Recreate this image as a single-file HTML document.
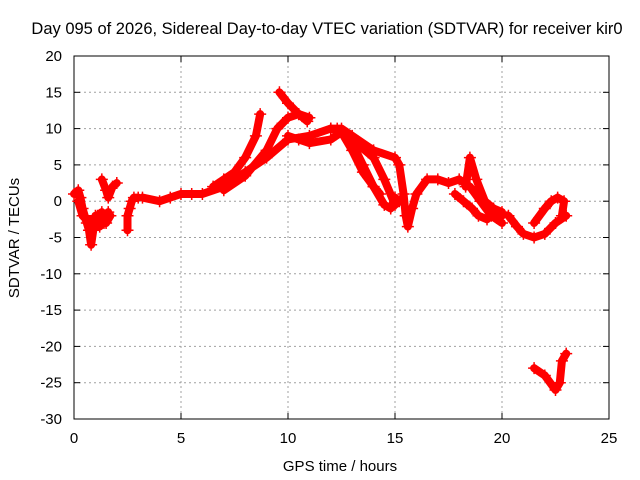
<!DOCTYPE html>
<html><head><meta charset="utf-8"><style>
body{margin:0;background:#fff}
svg{display:block;font-family:"Liberation Sans",sans-serif;font-size:15px}
</style></head><body>
<svg id="chart" width="640" height="480" xmlns="http://www.w3.org/2000/svg">
<rect width="640" height="480" fill="#fff"/>
<g id="grid"></g>
<g id="axes"></g>
<g id="marks"></g>
<text x="327" y="34" text-anchor="middle" style="font-size:16.5px">Day 095 of 2026, Sidereal Day-to-day VTEC variation (SDTVAR) for receiver kir0</text>
<text x="340" y="471" text-anchor="middle">GPS time / hours</text>
<text transform="translate(19,238) rotate(-90)" text-anchor="middle">SDTVAR / TECUs</text>
</svg>
<script>
const xTicks=[0,5,10,15,20,25];
const yTicks=[20,15,10,5,0,-5,-10,-15,-20,-25,-30];
const trackA=[[0,1],[0.2,1.5],[0.3,0.5],[0.4,-1],[0.5,-2],[0.6,-3],[0.7,-4],[0.8,-6],[0.9,-4],[1,-2],[1.1,-3],[1.2,-3.5],[1.3,-2.5],[1.4,-3],[1.5,-2],[1.6,-1.5]];
const trackA2=[[0.2,0],[0.4,-2],[0.6,-2.5],[0.9,-2.5],[1.1,-2],[1.3,-1.5],[1.5,-3],[1.7,-2]];
const trackB=[[1.3,3],[1.5,1.5],[1.6,0.5],[1.8,2],[2,2.5]];
const trackC=[[2.5,-4],[2.5,-2],[2.6,-1],[2.7,0],[2.8,0.5],[3,0.5]];
const trackMain=[[3.2,0.5],[4,0],[4.5,0.5],[5,1],[5.5,1],[6,1],[7,2],[8,4],[9,6],[10,8.5],[11,9],[12,10],[12.5,10],[13,9],[14,7],[15,6],[15.2,5],[15.4,1],[15.5,-2],[15.6,-3.5],[15.8,-1],[16,1],[16.5,3],[17,3],[17.5,2.5],[18,3],[18.5,2],[19,0],[19.5,-2],[20,-3]];
const trackUp1=[[6.5,2],[7,3],[7.5,4],[8,6],[8.5,9],[8.7,12]];
const trackUp2=[[7,1.5],[8,3.5],[9,7],[9.5,10],[10,11.5],[10.5,12],[11,11.5]];
const trackPeak=[[9.6,15],[10,13.5],[10.5,12],[10.9,11]];
const trackD=[[10,9],[10.5,8.5],[11,8],[12,8.5],[12.5,9.5],[13,8],[13.5,5],[14,2],[14.5,-0.5],[14.8,-1],[15,0.5]];
const trackE=[[12,10],[12.5,9.5],[13,7],[13.5,4],[14,2],[14.3,1]];
const trackF=[[12.3,10],[13,8.5],[14,6],[14.5,3],[15,-0.5],[15.2,0]];
const trackG=[[18.3,2],[18.5,6],[18.8,3],[19.2,0],[19.6,-1],[20,-2]];
const trackH=[[17.8,1],[18.2,0],[18.6,-1],[18.9,-2],[19.3,-2.5],[19.6,-1],[20,-1.5]];
const trackLoopLow=[[20.3,-2],[20.7,-3.5],[21,-4.5],[21.5,-5],[22,-4.5],[22.5,-3],[23,-2]];
const trackLoopUp=[[21.5,-3],[22,-1],[22.3,0],[22.6,0.5],[22.9,0],[22.8,-2]];
const trackV=[[21.5,-23],[22,-24],[22.5,-26],[22.7,-25],[22.8,-22],[23,-21]];
const tracks=[trackA,trackA2,trackB,trackC,trackMain,trackUp1,trackUp2,trackPeak,trackD,trackE,trackF,trackG,trackH,trackLoopLow,trackLoopUp,trackV];
const X0=74,X1=609,Y0=419,Y1=56;
const sx=h=>X0+(h-0)/(25-0)*(X1-X0);
const sy=v=>Y0-(v+30)/50*(Y0-Y1);
const NS="http://www.w3.org/2000/svg";
const grid=document.getElementById('grid'),axes=document.getElementById('axes'),marks=document.getElementById('marks');
function mk(t,a,p){const e=document.createElementNS(NS,t);for(const k in a)e.setAttribute(k,a[k]);p.appendChild(e);return e;}
xTicks.forEach(t=>{
 if(t>0&&t<25){const g=mk('line',{x1:sx(t),x2:sx(t),y1:Y1,y2:Y0,stroke:'#a0a0a0','stroke-dasharray':'2,3'},grid);
 
 }
 const l=mk('text',{x:sx(t),y:Y0+24,'text-anchor':'middle'},axes);l.textContent=t;
 
 
 mk('line',{x1:sx(t),x2:sx(t),y1:Y0,y2:Y0-6,stroke:'#000'},axes);
 mk('line',{x1:sx(t),x2:sx(t),y1:Y1,y2:Y1+6,stroke:'#000'},axes);
});
yTicks.forEach(t=>{
 if(t>-30&&t<20){const g=mk('line',{x1:X0,x2:X1,y1:sy(t),y2:sy(t),stroke:'#a0a0a0','stroke-dasharray':'2,3'},grid);
 
 }
 const l=mk('text',{x:X0-12,y:sy(t)+5,'text-anchor':'end'},axes);l.textContent=t;
 
 
 mk('line',{x1:X0,x2:X0+6,y1:sy(t),y2:sy(t),stroke:'#000'},axes);
 mk('line',{x1:X1,x2:X1-6,y1:sy(t),y2:sy(t),stroke:'#000'},axes);
});
const fr=mk('rect',{x:X0,y:Y1,width:X1-X0,height:Y0-Y1,fill:'none',stroke:'#000'},axes);


tracks.forEach(tr=>{
 const pl=mk('polyline',{points:tr.map(p=>sx(p[0])+','+sy(p[1])).join(' '),fill:'none',stroke:'#ff0000','stroke-width':8,'stroke-linejoin':'round','stroke-linecap':'round'},marks);
 
 
 tr.forEach(p=>{
  const x=sx(p[0]),y=sy(p[1]);
  const m=mk('path',{d:`M${x-6},${y}H${x+6}M${x},${y-6}V${y+6}`,stroke:'#ff0000','stroke-width':1.5},marks);
  
  
 });
});
</script>
</body></html>
